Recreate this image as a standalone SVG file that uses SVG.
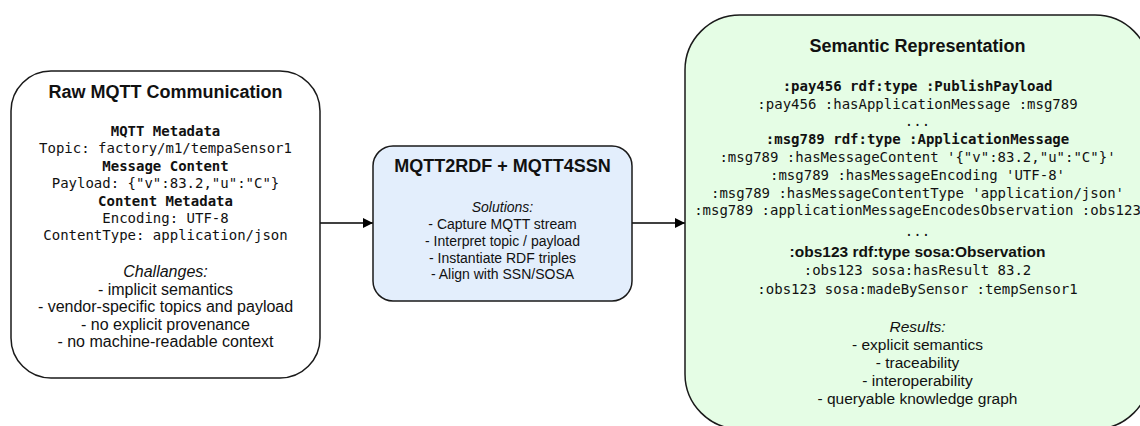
<svg xmlns="http://www.w3.org/2000/svg" width="1140" height="426" viewBox="0 0 1140 426">
<defs>
<style>
.box{stroke:#1a1a1a;stroke-width:1.5}
.t{font-family:"Liberation Sans",Arial,sans-serif;fill:#111;text-anchor:middle}
.h{font-size:18px;font-weight:bold}
.s{font-size:16px}
.sr{font-size:15.5px}
.s14{font-size:14px}
.i{font-style:italic}
.b{font-weight:bold}
.m{font-family:"DejaVu Sans Mono","Liberation Mono",monospace;font-size:14px;fill:#111;text-anchor:middle}
.edge{stroke:#000;stroke-width:1.5;fill:none}
</style>
<marker id="arr" viewBox="0 0 10 10" refX="10" refY="5" markerWidth="10" markerHeight="10" markerUnits="userSpaceOnUse" orient="auto">
<path d="M0,0 L10,5 L0,10 z" fill="#000"/>
</marker>
</defs>
<g id="connectors">
<line class="edge" x1="320" y1="223" x2="373" y2="223" marker-end="url(#arr)"/>
<line class="edge" x1="632" y1="223" x2="685" y2="223" marker-end="url(#arr)"/>
</g>
<g id="raw-mqtt">
<rect class="box" x="11" y="71" width="309" height="307" rx="40" ry="40" fill="#ffffff"/>
<text class="t h" x="165.5" y="98">Raw MQTT Communication</text>
<text class="m b" x="165.5" y="136">MQTT Metadata</text>
<text class="m" x="165.5" y="153.4">Topic: factory/m1/tempaSensor1</text>
<text class="m b" x="165.5" y="170.8">Message Content</text>
<text class="m" x="165.5" y="188.2">Payload: {"v":83.2,"u":"C"}</text>
<text class="m b" x="165.5" y="205.6">Content Metadata</text>
<text class="m" x="165.5" y="223">Encoding: UTF-8</text>
<text class="m" x="165.5" y="240.4">ContentType: application/json</text>
<text class="t s i" x="165.5" y="277">Challanges:</text>
<text class="t s" x="165.5" y="294.6">- implicit semantics</text>
<text class="t s" x="165.5" y="312.2">- vendor-specific topics and payload</text>
<text class="t s" x="165.5" y="329.8">- no explicit provenance</text>
<text class="t s" x="165.5" y="347.4">- no machine-readable context</text>
</g>
<g id="mqtt2rdf">
<rect class="box" x="373" y="146" width="259" height="155" rx="20" ry="20" fill="#e3eefc"/>
<text class="t h" x="502.5" y="172">MQTT2RDF + MQTT4SSN</text>
<text class="t s14 i" x="502.5" y="212">Solutions:</text>
<text class="t s14" x="502.5" y="229">- Capture MQTT stream</text>
<text class="t s14" x="502.5" y="245.8">- Interpret topic / payload</text>
<text class="t s14" x="502.5" y="262.6">- Instantiate RDF triples</text>
<text class="t s14" x="502.5" y="279.4">- Align with SSN/SOSA</text>
</g>
<g id="semantic">
<rect class="box" x="685" y="15" width="465" height="414" rx="55" ry="55" fill="#e5fde5"/>
<text class="t h" x="917.5" y="52">Semantic Representation</text>
<text class="m b" x="917.5" y="90.7">:pay456 rdf:type :PublishPayload</text>
<text class="m" x="917.5" y="108.5">:pay456 :hasApplicationMessage :msg789</text>
<text class="m" x="917.5" y="126.3">...</text>
<text class="m b" x="917.5" y="144.1">:msg789 rdf:type :ApplicationMessage</text>
<text class="m" x="917.5" y="161.9">:msg789 :hasMessageContent '{"v":83.2,"u":"C"}'</text>
<text class="m" x="917.5" y="179.7">:msg789 :hasMessageEncoding 'UTF-8'</text>
<text class="m" x="917.5" y="197.5">:msg789 :hasMessageContentType 'application/json'</text>
<text class="m" x="917.5" y="215.3">:msg789 :applicationMessageEncodesObservation :obs123</text>
<text class="m" x="917.5" y="236">...</text>
<text class="t sr b" x="917.5" y="257">:obs123 rdf:type sosa:Observation</text>
<text class="m" x="917.5" y="275">:obs123 sosa:hasResult 83.2</text>
<text class="m" x="917.5" y="293.5">:obs123 sosa:madeBySensor :tempSensor1</text>
<text class="t sr i" x="917.5" y="331.5">Results:</text>
<text class="t sr" x="917.5" y="349.5">- explicit semantics</text>
<text class="t sr" x="917.5" y="367.5">- traceability</text>
<text class="t sr" x="917.5" y="385.5">- interoperability</text>
<text class="t sr" x="917.5" y="403.5">- queryable knowledge graph</text>
</g>
</svg>
